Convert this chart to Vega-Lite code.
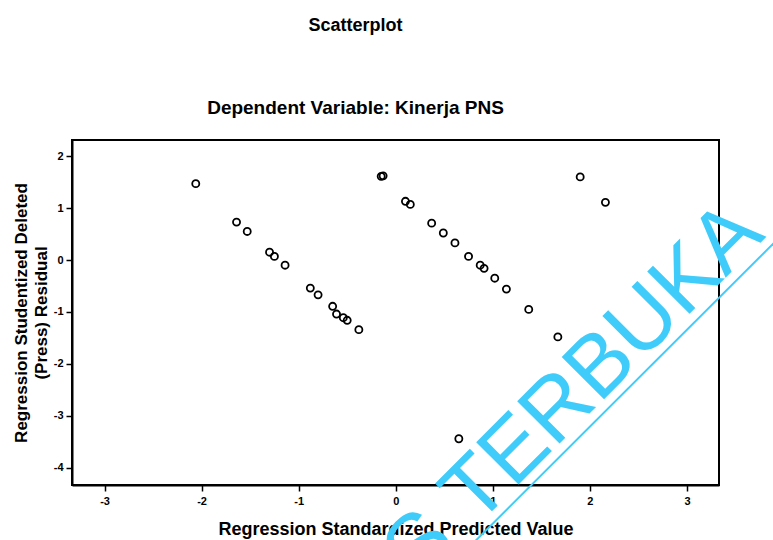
{
  "$schema": "https://vega.github.io/schema/vega-lite/v6.json",
  "width": 647,
  "height": 345,
  "autosize": "none",
  "padding": {"left": 72, "top": 140, "right": 54, "bottom": 55},
  "background": "white",
  "title": {
    "text": "Scatterplot",
    "subtitle": "Dependent Variable: Kinerja PNS",
    "anchor": "middle",
    "frame": "group",
    "dx": -40,
    "offset": 22,
    "font": "Liberation Sans",
    "fontSize": 18,
    "fontWeight": "bold",
    "color": "black",
    "subtitleFont": "Liberation Sans",
    "subtitleFontSize": 19,
    "subtitleFontWeight": "bold",
    "subtitleColor": "black",
    "subtitlePadding": 64
  },
  "config": {
    "view": {"stroke": "black", "strokeWidth": 2},
    "axis": {
      "grid": false,
      "domainColor": "black",
      "domainWidth": 2,
      "tickColor": "black",
      "tickWidth": 1.5,
      "tickSize": 6,
      "labelFont": "Liberation Sans",
      "labelFontSize": 11,
      "labelFontWeight": "bold",
      "labelColor": "black",
      "labelExpr": "datum.value < 0 ? '-' + abs(datum.value) : '' + datum.value",
      "titleFont": "Liberation Sans",
      "titleFontWeight": "bold",
      "titleColor": "black",
      "titleLineHeight": 20
    }
  },
  "layer": [
    {
      "data": {
        "values": [
          {"pred": -2.06, "resid": 1.47},
          {"pred": -1.64, "resid": 0.73},
          {"pred": -1.53, "resid": 0.55},
          {"pred": -1.30, "resid": 0.15},
          {"pred": -1.25, "resid": 0.07},
          {"pred": -1.14, "resid": -0.10},
          {"pred": -0.88, "resid": -0.54},
          {"pred": -0.80, "resid": -0.67},
          {"pred": -0.65, "resid": -0.89},
          {"pred": -0.61, "resid": -1.04},
          {"pred": -0.54, "resid": -1.11},
          {"pred": -0.50, "resid": -1.16},
          {"pred": -0.38, "resid": -1.34},
          {"pred": -0.15, "resid": 1.61},
          {"pred": -0.13, "resid": 1.62},
          {"pred": 0.10, "resid": 1.13},
          {"pred": 0.15, "resid": 1.07},
          {"pred": 0.37, "resid": 0.71},
          {"pred": 0.49, "resid": 0.52},
          {"pred": 0.61, "resid": 0.33},
          {"pred": 0.75, "resid": 0.07},
          {"pred": 0.87, "resid": -0.10},
          {"pred": 0.91, "resid": -0.16},
          {"pred": 1.02, "resid": -0.35},
          {"pred": 1.14, "resid": -0.56},
          {"pred": 1.37, "resid": -0.95},
          {"pred": 1.67, "resid": -1.48},
          {"pred": 1.90, "resid": 1.60},
          {"pred": 2.16, "resid": 1.11},
          {"pred": 0.65, "resid": -3.44}
        ]
      },
      "mark": {"type": "point", "shape": "circle", "filled": false, "color": "black", "size": 50, "strokeWidth": 1.8, "opacity": 1},
      "encoding": {
        "x": {
          "field": "pred",
          "type": "quantitative",
          "scale": {"domain": [-3.335, 3.33], "nice": false, "zero": false},
          "axis": {"values": [-3, -2, -1, 0, 1, 2, 3], "labelPadding": 4, "titlePadding": 14, "titleFontSize": 18, "title": "Regression Standardized Predicted Value"}
        },
        "y": {
          "field": "resid",
          "type": "quantitative",
          "scale": {"domain": [-4.33, 2.31], "nice": false, "zero": false},
          "axis": {"values": [-4, -3, -2, -1, 0, 1, 2], "labelPadding": 3, "titlePadding": 3, "titleFontSize": 17, "title": ["Regression Studentized Deleted", "(Press) Residual"]}
        }
      }
    },
    {
      "data": {"values": [{"label": "TERBUKA"}]},
      "mark": {"type": "text", "angle": -45, "align": "left", "baseline": "alphabetic", "fontSize": 87, "font": "Liberation Sans", "color": "#40CCFA"},
      "encoding": {
        "x": {"datum": 0.826},
        "y": {"datum": -5.142},
        "text": {"field": "label"}
      }
    },
    {
      "data": {"values": [{"label": "UNIVERSITAS"}]},
      "mark": {"type": "text", "angle": -45, "align": "right", "baseline": "alphabetic", "fontSize": 87, "font": "Liberation Sans", "color": "#40CCFA"},
      "encoding": {
        "x": {"datum": 0.651},
        "y": {"datum": -5.469},
        "text": {"field": "label"}
      }
    },
    {
      "data": {"values": [{"label": "underline"}]},
      "mark": {"type": "rule", "color": "#40CCFA", "strokeWidth": 2},
      "encoding": {
        "x": {"datum": 0.043},
        "y": {"datum": -6.857},
        "x2": {"datum": 4.061},
        "y2": {"datum": 0.636}
      }
    }
  ]
}
